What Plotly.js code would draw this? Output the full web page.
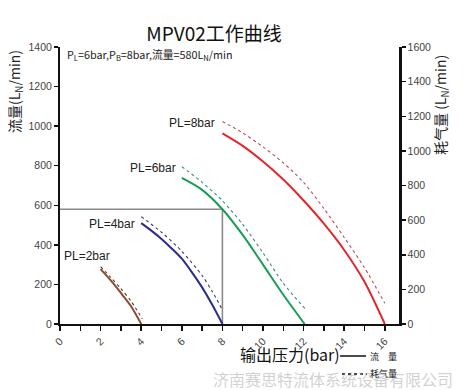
<!DOCTYPE html>
<html>
<head>
<meta charset="utf-8">
<script src="https://cdn.plot.ly/plotly-3.0.1.min.js"></script>
<style>html,body{margin:0;padding:0;background:#fff;}#chart{width:469px;height:390px;}</style>
</head>
<body>
<div id="chart"></div>
<script>
// ---- data ----
const seriesNames = ["PL=2bar", "PL=4bar", "PL=6bar", "PL=8bar"];
// flow (left axis)
const flowX2 = [2, 2.5, 3, 3.5, 4];
const flowY2 = [277, 220, 157, 90, 0];
const flowX4 = [4, 4.5, 5, 5.5, 6, 6.5, 7, 7.5, 8];
const flowY4 = [510, 472, 430, 382, 330, 261, 185, 97, 0];
const flowX6 = [6, 7, 8, 9, 10, 11, 12.05];
const flowY6 = [738, 678, 580, 450, 300, 148, 0];
const flowX8 = [8, 9, 10, 11, 12, 13, 14, 15, 16];
const flowY8 = [963, 900, 821, 730, 624, 507, 374, 213, 0];
// air consumption (right axis)
const airX2 = [2, 2.5, 3, 3.5, 4.05];
const airY2 = [331, 270, 204, 132, 30];
const airX4 = [4, 5, 6, 7, 7.5, 8];
const airY4 = [620, 530, 420, 280, 188, 81];
const airX6 = [6, 7, 8, 9, 10, 11, 12.1];
const airY6 = [909, 818, 712, 575, 411, 235, 85];
const airX8 = [8, 9, 10, 11, 12, 13, 14, 15, 16];
const airY8 = [1170, 1104, 1023, 931, 818, 667, 500, 325, 120];
// reference point (PL=6bar, PB=8bar, flow=580)
const refX = [0, 8, 8];
const refY = [580, 580, 0];
// label anchor positions (end of label text)
const labelX = [2.56, 3.79, 5.81, 7.73];
const labelY = [344, 506, 790, 1018];
const legendNames = ["流　量", "耗气量"];

const flowColors = ["#8a4b35", "#2b2d8c", "#1a9e55", "#e3262c"];
const airColors = ["#5a3a30", "#3a3a5e", "#3a8a7e", "#c04a52"];

const flowX = [flowX2, flowX4, flowX6, flowX8];
const flowY = [flowY2, flowY4, flowY6, flowY8];
const airX = [airX2, airX4, airX6, airX8];
const airY = [airY2, airY4, airY6, airY8];

const traces = [];
traces.push({x: refX, y: refY, mode: 'lines', line: {color: '#8a8a8a', width: 1.6}, showlegend: false, hoverinfo: 'skip'});
for (let i = 0; i < 4; i++) {
  traces.push({x: flowX[i], y: flowY[i], mode: 'lines', line: {color: flowColors[i], width: 2, shape: 'spline', smoothing: 0.8}, showlegend: false, name: seriesNames[i]});
  traces.push({x: airX[i], y: airY[i], yaxis: 'y2', mode: 'lines', line: {color: airColors[i], width: 1.1, dash: 'dot', shape: 'spline', smoothing: 0.8}, showlegend: false, name: seriesNames[i]});
}

// pixel -> paper helpers (plot area: x 60..399, y 47..324)
const PX = p => (p - 60) / 339;
const PY = p => (324 - p) / 277;

const annotations = [];
for (let i = 0; i < 4; i++) {
  annotations.push({x: labelX[i], y: labelY[i], xref: 'x', yref: 'y', text: seriesNames[i], showarrow: false,
    xanchor: 'right', yanchor: 'middle', font: {family: 'Liberation Sans, Arial', size: 12, color: '#222'}});
}
annotations.push({xref: 'paper', yref: 'paper', x: PX(65), y: PY(55), xanchor: 'left', yanchor: 'middle',
  text: 'P<sub>L</sub>=6bar,P<sub>B</sub>=8bar,流量=580L<sub>N</sub>/min', showarrow: false,
  font: {family: 'Noto Sans CJK SC', size: 10.8, color: '#222'}});
annotations.push({xref: 'paper', yref: 'paper', x: PX(15), y: PY(91), xanchor: 'center', yanchor: 'middle',
  text: '流量(L<sub>N</sub>/min)', textangle: -90, showarrow: false,
  font: {family: 'Noto Sans CJK SC', size: 14, color: '#222'}});
annotations.push({xref: 'paper', yref: 'paper', x: PX(441), y: PY(105), xanchor: 'center', yanchor: 'middle',
  text: '耗气量 (L<sub>N</sub>/min)', textangle: -90, showarrow: false,
  font: {family: 'Noto Sans CJK SC', size: 14, color: '#222'}});
annotations.push({xref: 'paper', yref: 'paper', x: PX(290), y: PY(354), xanchor: 'center', yanchor: 'middle',
  text: '输出压力(bar)', showarrow: false,
  font: {family: 'Noto Sans CJK SC', size: 16, color: '#111'}});
annotations.push({xref: 'paper', yref: 'paper', x: PX(333), y: PY(379), xanchor: 'center', yanchor: 'middle',
  text: '济南赛思特流体系统设备有限公司', showarrow: false,
  font: {family: 'Noto Sans CJK SC', size: 16, color: 'rgba(170,170,170,0.55)'}});
annotations.push({xref: 'paper', yref: 'paper', x: PX(368), y: PY(356), xanchor: 'left', yanchor: 'middle',
  text: legendNames[0], showarrow: false, font: {family: 'Noto Sans CJK SC', size: 9, color: '#111'}});
annotations.push({xref: 'paper', yref: 'paper', x: PX(368), y: PY(373), xanchor: 'left', yanchor: 'middle',
  text: legendNames[1], showarrow: false, font: {family: 'Noto Sans CJK SC', size: 9, color: '#111'}});

const shapes = [
  {type: 'line', xref: 'paper', yref: 'paper', x0: PX(340), x1: PX(366), y0: PY(356), y1: PY(356), line: {color: '#111', width: 1.5}},
  {type: 'line', xref: 'paper', yref: 'paper', x0: PX(342), x1: PX(367), y0: PY(374), y1: PY(374), line: {color: '#111', width: 1.5, dash: 'dot'}}
];

const tickFont = {family: 'Liberation Sans, Arial', size: 10.5, color: '#444'};
const layout = {
  width: 469, height: 390,
  margin: {l: 60, r: 70, t: 47, b: 66},
  paper_bgcolor: '#fff', plot_bgcolor: '#fff',
  title: {text: 'MPV02工作曲线', x: 214/469, xanchor: 'center', xref: 'container', y: 1 - 34/390, yanchor: 'middle',
    font: {family: 'Noto Sans CJK SC', size: 19, color: '#111'}},
  xaxis: {range: [0, 16.7], dtick: 2, tick0: 0, tickangle: -45, ticks: 'outside', ticklen: 5, tickwidth: 1.5, tickcolor: '#111',
    minor: {dtick: 1, ticks: 'outside', ticklen: 5, tickwidth: 1.5, tickcolor: '#111'},
    showgrid: false, zeroline: false, showline: true, linecolor: '#111', linewidth: 2, tickfont: tickFont},
  yaxis: {range: [0, 1400], dtick: 200, ticks: 'outside', ticklen: 4, tickwidth: 1.5, tickcolor: '#111',
    showgrid: false, zeroline: false, showline: true, linecolor: '#111', linewidth: 2, tickfont: tickFont},
  yaxis2: {range: [0, 1600], dtick: 200, overlaying: 'y', side: 'right', ticks: 'outside', ticklen: 4, tickwidth: 1.5, tickcolor: '#111',
    showgrid: false, zeroline: false, showline: true, linecolor: '#111', linewidth: 2.5, tickfont: tickFont},
  showlegend: false,
  annotations: annotations,
  shapes: shapes
};
Plotly.newPlot('chart', traces, layout, {displayModeBar: false, staticPlot: true});
</script>
</body>
</html>
